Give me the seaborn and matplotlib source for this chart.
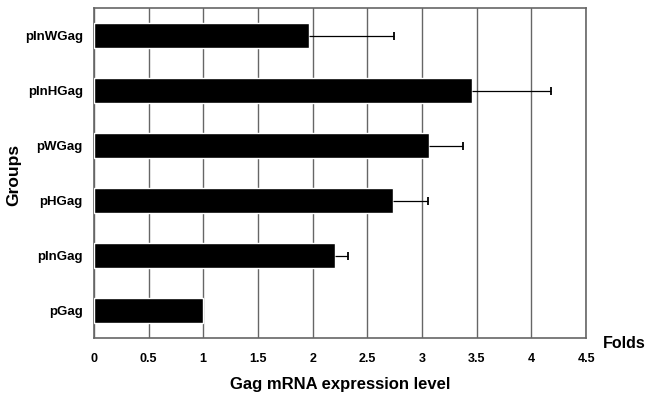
import numpy as np
import pandas as pd
import matplotlib
matplotlib.use("Agg")
import matplotlib.pyplot as plt
import seaborn as sns

# Values
groups = ["pInWGag", "pInHGag", "pWGag", "pHGag", "pInGag", "pGag"]
folds = [1.97, 3.46, 3.06, 2.73, 2.20, 1.00]
err_up = [0.77, 0.72, 0.31, 0.32, 0.12, 0.0]
xticks = [0, 0.5, 1, 1.5, 2, 2.5, 3, 3.5, 4, 4.5]

df = pd.DataFrame({"group": groups, "folds": folds})

sns.set_style("white")
plt.rcParams["font.family"] = ["Liberation Sans", "DejaVu Sans"]
plt.rcParams["font.weight"] = "bold"
plt.rcParams["text.color"] = "black"
plt.rcParams["axes.labelcolor"] = "black"
plt.rcParams["xtick.color"] = "black"
plt.rcParams["ytick.color"] = "black"

fig, ax = plt.subplots(figsize=(6.47, 4.03), dpi=100)
fig.subplots_adjust(left=0.145, right=0.906, top=0.980, bottom=0.161)
ax.set_axisbelow(True)

sns.barplot(data=df, y="group", x="folds", order=groups, orient="h",
            color="black", width=0.45, saturation=1, ax=ax, zorder=3)

# one-sided error bars: line from the bar end, cap only at the far end
ypos = np.arange(len(groups))
has_err = np.array(err_up) > 0
ax.errorbar(folds, ypos, xerr=[np.zeros(len(groups)), err_up],
            fmt="none", ecolor="black", elinewidth=0.9, capsize=0, zorder=4)
ax.plot((np.array(folds) + np.array(err_up))[has_err], ypos[has_err],
        linestyle="none", marker="|", markersize=6, markeredgewidth=1.3,
        color="black", zorder=4)

ax.set_xlim(0, 4.5)
ax.set_ylim(len(groups) - 0.5, -0.5)
ax.set_xticks(xticks)
ax.set_xticklabels([f"{t:g}" for t in xticks], fontsize=9, fontweight="bold")
ax.set_yticks(ypos)
ax.set_yticklabels(groups, fontsize=9.5, fontweight="bold")
ax.set_yticks(ypos[:-1] + 0.5, minor=True)
ax.tick_params(axis="x", length=0, pad=11)
ax.tick_params(axis="y", which="major", length=0, pad=8)
ax.tick_params(axis="y", which="minor", length=3, direction="in", color="#999999")

ax.grid(axis="x", color="#666666", linewidth=1.0)
ax.grid(axis="y", visible=False)
for s in ax.spines.values():
    s.set_visible(True)
    s.set_color("#666666")
    s.set_linewidth(1.2)

ax.set_xlabel("Gag mRNA expression level", fontsize=12, fontweight="bold", labelpad=8)
ax.set_ylabel("")
fig.text(0.022, 0.567, "Groups", fontsize=12.5, fontweight="bold",
         rotation=90, ha="center", va="center")
fig.text(0.932, 0.148, "Folds", fontsize=11.5, fontweight="bold", ha="left", va="center")

fig.savefig("out.png", dpi=100)
